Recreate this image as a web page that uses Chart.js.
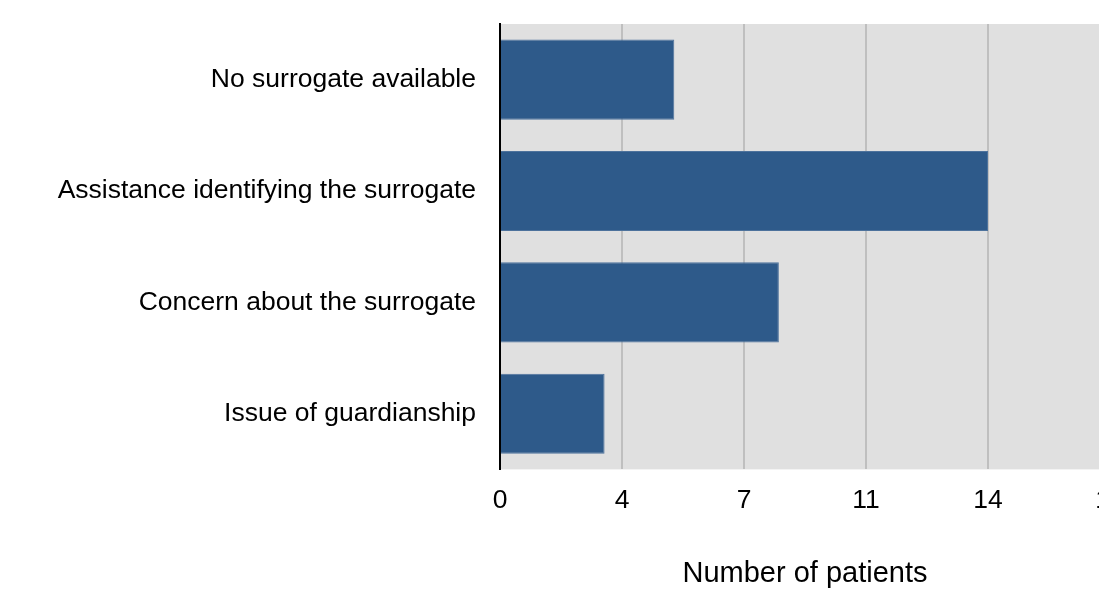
<!DOCTYPE html>
<html>
<head>
<meta charset="utf-8">
<script src="https://cdn.jsdelivr.net/npm/chart.js@4.4.1/dist/chart.umd.min.js"></script>
<style>
  html, body { margin: 0; padding: 0; background: #fff; overflow: hidden; }
  #wrap { width: 1099px; height: 591px; overflow: hidden; position: relative; }
  #chart { position: absolute; left: 0; top: 0; }
</style>
</head>
<body>
<div id="wrap"><canvas id="chart" width="1124" height="591"></canvas></div>
<script>
// Datos del gráfico
const categories = [
  'No surrogate available',
  'Assistance identifying the surrogate',
  'Concern about the surrogate',
  'Issue of guardianship'
];
const patients = [5, 14, 8, 3];
const xTickLabels = ['0', '4', '7', '11', '14', '18'];
const xTitle = 'Number of patients';

// Fondo gris del área del gráfico
const plotBackground = {
  id: 'plotBackground',
  beforeDraw(chart) {
    const { ctx, chartArea } = chart;
    ctx.save();
    ctx.fillStyle = '#e0e0e0';
    ctx.fillRect(chartArea.left, chartArea.top, chartArea.right - chartArea.left, chartArea.bottom - chartArea.top);
    ctx.restore();
  }
};

Chart.defaults.font.family = '"Liberation Sans", Arial, sans-serif';
Chart.defaults.color = '#000';

new Chart(document.getElementById('chart').getContext('2d'), {
  type: 'bar',
  data: {
    labels: categories,
    datasets: [{
      data: patients,
      backgroundColor: '#2e5a8a',
      borderColor: '#4d729c',
      borderWidth: 1,
      barPercentage: 0.72,
      categoryPercentage: 1.0
    }]
  },
  options: {
    indexAxis: 'y',
    responsive: false,
    animation: false,
    layout: { padding: { top: 24, left: 0, right: 14, bottom: 0 } },
    plugins: {
      legend: { display: false },
      tooltip: { enabled: false }
    },
    scales: {
      x: {
        min: 0,
        max: 17.5,
        ticks: {
          stepSize: 3.5,
          padding: 15,
          font: { size: 26.5 },
          callback: (v, i) => xTickLabels[i]
        },
        grid: { color: '#bfbfbf', lineWidth: 2, drawTicks: false },
        border: { display: false },
        title: {
          display: true,
          text: xTitle,
          font: { size: 29 },
          padding: { top: 25, bottom: 0 }
        },
        afterFit: scale => { scale.paddingLeft = 0; scale.paddingRight = 0; }
      },
      y: {
        ticks: { padding: 24, font: { size: 26.5 } },
        grid: { display: false, drawTicks: false },
        border: { color: '#000', width: 2 },
        afterFit: scale => {
          scale.width = 500;
          scale.paddingTop = 0;
          scale.paddingBottom = 0;
        }
      }
    }
  },
  plugins: [plotBackground]
});
</script>
</body>
</html>
